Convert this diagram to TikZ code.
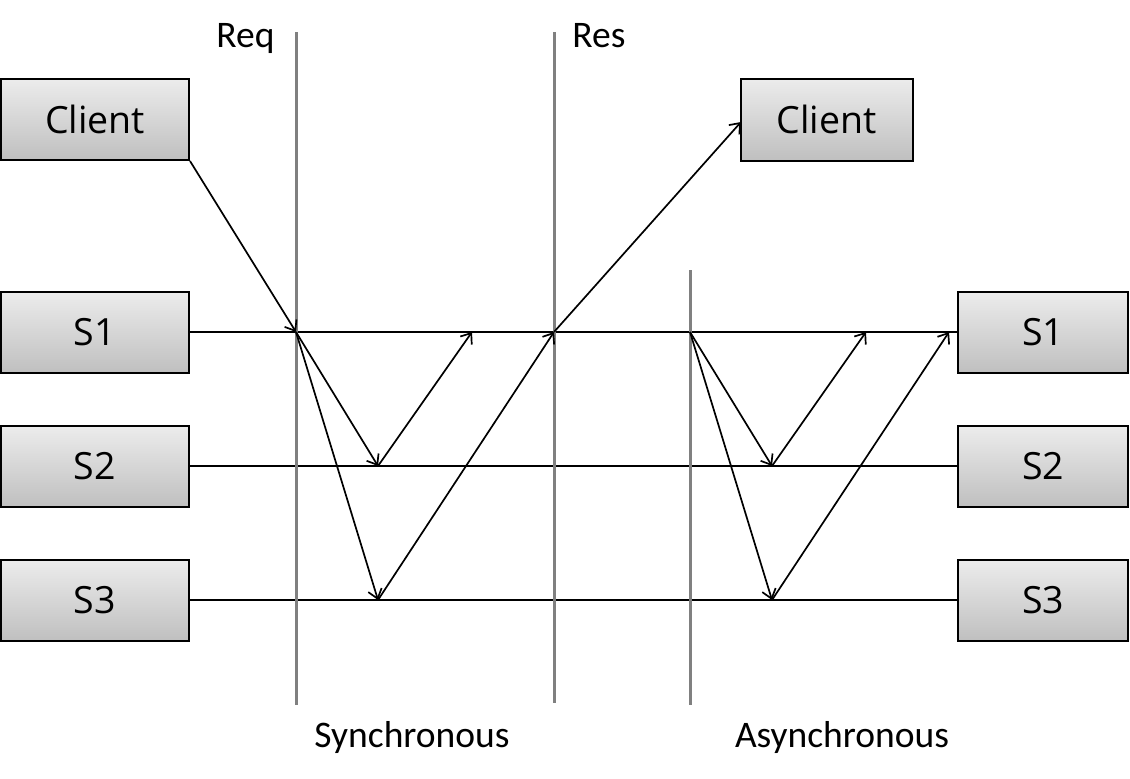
\documentclass[tikz,border=0pt]{standalone}
\usepackage{fontspec}
\newfontfamily\boxfont{Open Sans}
\newfontfamily\labfont{Carlito}
\usetikzlibrary{arrows.meta}
\begin{document}
\begin{tikzpicture}[x=1pt,y=-1pt,
  srvbox/.style={draw=black,line width=2pt,top color=gray!15,bottom color=gray!50,
    inner sep=0pt,font=\boxfont\fontsize{37.5}{40}\selectfont},
  lbl/.style={anchor=base,inner sep=0pt,font=\labfont\fontsize{37.5}{40}\selectfont},
  wire/.style={line width=2pt,black},
  sep/.style={line width=3pt,gray},
  msg/.style={line width=1.7pt,black,-{Straight Barb[length=9pt,width=14pt]}}]
\useasboundingbox (0,0) rectangle (1130,779);
% boxes
\node[srvbox,minimum width=188pt,minimum height=81pt] (cl) at (95,119.5) {Client};
\node[srvbox,minimum width=188pt,minimum height=81pt] (s1l) at (95,332.5) {S1};
\node[srvbox,minimum width=188pt,minimum height=81pt] (s2l) at (95,466.5) {S2};
\node[srvbox,minimum width=188pt,minimum height=81pt] (s3l) at (95,600.5) {S3};
\node[srvbox,minimum width=172pt,minimum height=82pt] (cr) at (826.5,119.5) {Client};
\node[srvbox,minimum width=170pt,minimum height=81pt] (s1r) at (1043,332.5) {S1};
\node[srvbox,minimum width=170pt,minimum height=81pt] (s2r) at (1043,466.5) {S2};
\node[srvbox,minimum width=170pt,minimum height=81pt] (s3r) at (1043,600.5) {S3};
% labels
\node[lbl] (req) at (245.5,47) {Req};
\node[lbl] (res) at (599,47) {Res};
\node[lbl] (sync) at (412,747) {Synchronous};
\node[lbl] (async) at (842,747) {Asynchronous};
% coordinates
\coordinate (reqtop) at (296,32);
\coordinate (reqbot) at (296,705);
\coordinate (restop) at (554,32);
\coordinate (resbot) at (554,703);
\coordinate (astop) at (690,270);
\coordinate (asbot) at (690,705);
\coordinate (p0) at (296,332);
\coordinate (p2) at (378,466);
\coordinate (p3) at (378,600);
\coordinate (p1) at (472,332);
\coordinate (pr) at (554,332);
\coordinate (q0) at (690,332);
\coordinate (q2) at (772,466);
\coordinate (q3) at (772,600);
\coordinate (q1) at (866,332);
\coordinate (qr) at (949,332);
\coordinate (crin) at (741,122);
% horizontal wires
\draw[wire] (s1l.east|-p0) -- (s1r.west|-p0);
\draw[wire] (s2l.east|-p2) -- (s2r.west|-p2);
\draw[wire] (s3l.east|-p3) -- (s3r.west|-p3);
% separators
\draw[sep] (reqtop) -- (reqbot);
\draw[sep] (restop) -- (resbot);
\draw[sep] (astop) -- (asbot);
% messages
\draw[msg] (cl.south east) -- (p0);
\draw[msg] (p0) -- (p2);
\draw[msg] (p0) -- (p3);
\draw[msg] (p2) -- (p1);
\draw[msg] (p3) -- (pr);
\draw[msg] (pr) -- (crin);
\draw[msg] (q0) -- (q2);
\draw[msg] (q0) -- (q3);
\draw[msg] (q2) -- (q1);
\draw[msg] (q3) -- (qr);
\end{tikzpicture}
\end{document}
